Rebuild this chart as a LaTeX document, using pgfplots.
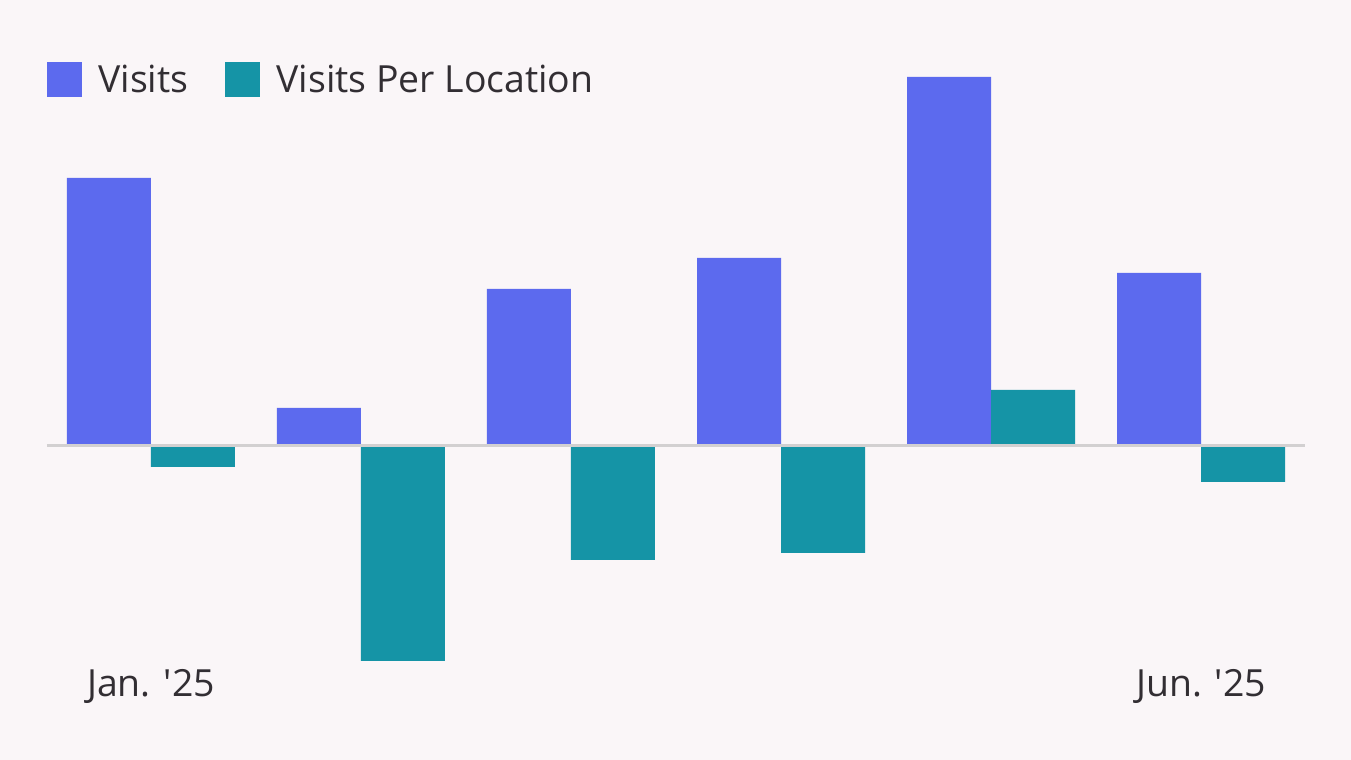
\documentclass[border=0pt]{standalone}
\usepackage{pgfplots}
\pgfplotsset{compat=1.18}
\usepackage{fontspec}
\setmainfont{Open Sans}

\definecolor{bgcol}{HTML}{FAF6F8}
\definecolor{visitscol}{HTML}{5C6AEE}
\definecolor{vplcol}{HTML}{1594A6}
\definecolor{zerocol}{HTML}{D2D0D1}
\definecolor{textcol}{HTML}{322E33}

\begin{document}
\begin{tikzpicture}
\fill[bgcol] (0,0) rectangle (675.5pt,380pt);
\begin{axis}[
  at={(23.5pt,47.5pt)}, anchor=south west,
  scale only axis, width=629pt, height=312.5pt,
  xmin=-0.495, xmax=5.495, ymin=-21.95, ymax=40.55,
  ybar=0pt, bar width=42pt,
  axis line style={draw=none},
  major tick length=0pt,
  ytick=\empty,
  xtick={0,5}, xticklabels={Jan. \textquotesingle25, Jun. \textquotesingle25},
  xticklabel style={anchor=base, yshift=-16pt, font=\fontsize{18.7}{22}\selectfont, text=textcol},
  legend style={at={(0,1)}, anchor=north west, yshift=-10.5pt, draw=none, fill=none, inner sep=0pt,
    font=\fontsize{18.7}{22}\selectfont, text=textcol,
    /tikz/every even column/.append style={column sep=16.5pt}},
  legend columns=2,
  legend image code/.code={\fill[#1] (0pt,-8pt) rectangle (17.5pt,9.5pt); \path (23.5pt,0pt);},
  clip=false,
]
% monthly change, Visits
\addplot[fill=visitscol, draw=none] coordinates {(0,26.75) (1,3.75) (2,15.65) (3,18.75) (4,36.85) (5,17.25)};
% monthly change, Visits Per Location
\addplot[fill=vplcol, draw=none] coordinates {(0,-2.15) (1,-21.55) (2,-11.45) (3,-10.75) (4,5.55) (5,-3.65)};
\legend{Visits, Visits Per Location}
\draw[zerocol, line width=1.5pt] (axis cs:-0.495,0) -- (axis cs:5.495,0);
\end{axis}
\pgfresetboundingbox
\path (0,0) rectangle (675.5pt,380pt);
\end{tikzpicture}
\end{document}
